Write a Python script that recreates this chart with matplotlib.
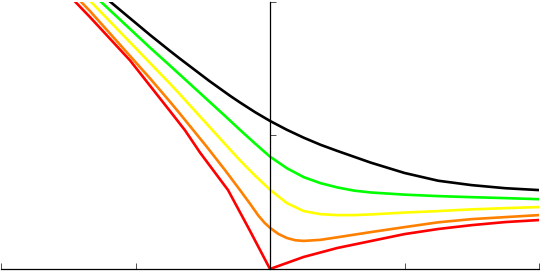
import matplotlib
matplotlib.use("Agg")
import matplotlib.pyplot as plt

# Series data (x, y)
black_x = [-1.190, -0.892, -0.743, -0.669, -0.450, -0.297, -0.223, -0.11, 0.0, 0.125, 0.25, 0.375, 0.5, 0.75, 1.0, 1.25, 1.5, 1.75, 2.0]
black_y = [2.0, 1.750, 1.630, 1.572, 1.405, 1.295, 1.245, 1.172, 1.107, 1.041, 0.982, 0.929, 0.883, 0.795, 0.718, 0.660, 0.627, 0.604, 0.590]

green_x = [-1.259, -0.892, -0.743, -0.669, -0.335, -0.223, -0.11, 0.0, 0.125, 0.25, 0.375, 0.5, 0.625, 0.75, 1.0, 1.25, 1.5, 1.75, 2.0]
green_y = [2.0, 1.655, 1.520, 1.452, 1.145, 1.040, 0.937, 0.840, 0.754, 0.687, 0.642, 0.610, 0.586, 0.572, 0.556, 0.545, 0.537, 0.530, 0.522]

yellow_x = [-1.333, -0.892, -0.743, -0.669, -0.335, -0.223, -0.11, 0.0, 0.125, 0.25, 0.375, 0.5, 0.625, 0.75, 1.0, 1.25, 1.5, 1.75, 2.0]
yellow_y = [2.0, 1.540, 1.385, 1.305, 0.935, 0.812, 0.697, 0.593, 0.493, 0.433, 0.410, 0.403, 0.403, 0.408, 0.422, 0.433, 0.446, 0.455, 0.463]

orange_x = [-1.407, -1.338, -0.892, -0.743, -0.669, -0.471, -0.335, -0.223, -0.15, -0.087, -0.04, 0.0, 0.0625, 0.125, 0.1875, 0.25, 0.375, 0.5, 0.75, 1.0, 1.25, 1.5, 1.75, 2.0]
orange_y = [2.0, 1.928, 1.425, 1.250, 1.160, 0.915, 0.740, 0.590, 0.490, 0.400, 0.345, 0.308, 0.262, 0.232, 0.215, 0.210, 0.218, 0.237, 0.276, 0.313, 0.349, 0.373, 0.388, 0.403]

red_x = [-1.450, -1.338, -1.041, -0.892, -0.743, -0.632, -0.520, -0.312, -0.156, 0.0, 0.125, 0.25, 0.5, 0.75, 1.0, 1.25, 1.5, 1.75, 2.0]
red_y = [2.0, 1.883, 1.560, 1.370, 1.180, 1.037, 0.870, 0.590, 0.299, 0.0, 0.045, 0.090, 0.157, 0.209, 0.261, 0.299, 0.328, 0.351, 0.366]

x_ticks = [-2, -1, 1, 2]
y_ticks = [1, 2]

fig = plt.figure(figsize=(5.40, 2.77), dpi=100)
ax = fig.add_axes([1/540, 8/277, 538/540, 267.5/277])

lw = 1.9
ax.plot(red_x, red_y, color="#ff0000", lw=lw)
ax.plot(orange_x, orange_y, color="#ff8000", lw=lw)
ax.plot(yellow_x, yellow_y, color="#ffff00", lw=lw)
ax.plot(green_x, green_y, color="#00ff00", lw=lw)
ax.plot(black_x, black_y, color="#000000", lw=lw)

ax.set_xlim(-2, 2)
ax.set_ylim(0, 2)
ax.spines["left"].set_position(("data", 0))
ax.spines["bottom"].set_position(("data", 0))
ax.spines["right"].set_visible(False)
ax.spines["top"].set_visible(False)
for s in ("left", "bottom"):
    ax.spines[s].set_linewidth(0.9)
ax.set_xticks(x_ticks)
ax.set_yticks(y_ticks)
ax.tick_params(direction="in", length=4, width=0.6, labelleft=False, labelbottom=False, colors="#333333")

fig.savefig("out.png", dpi=100)
